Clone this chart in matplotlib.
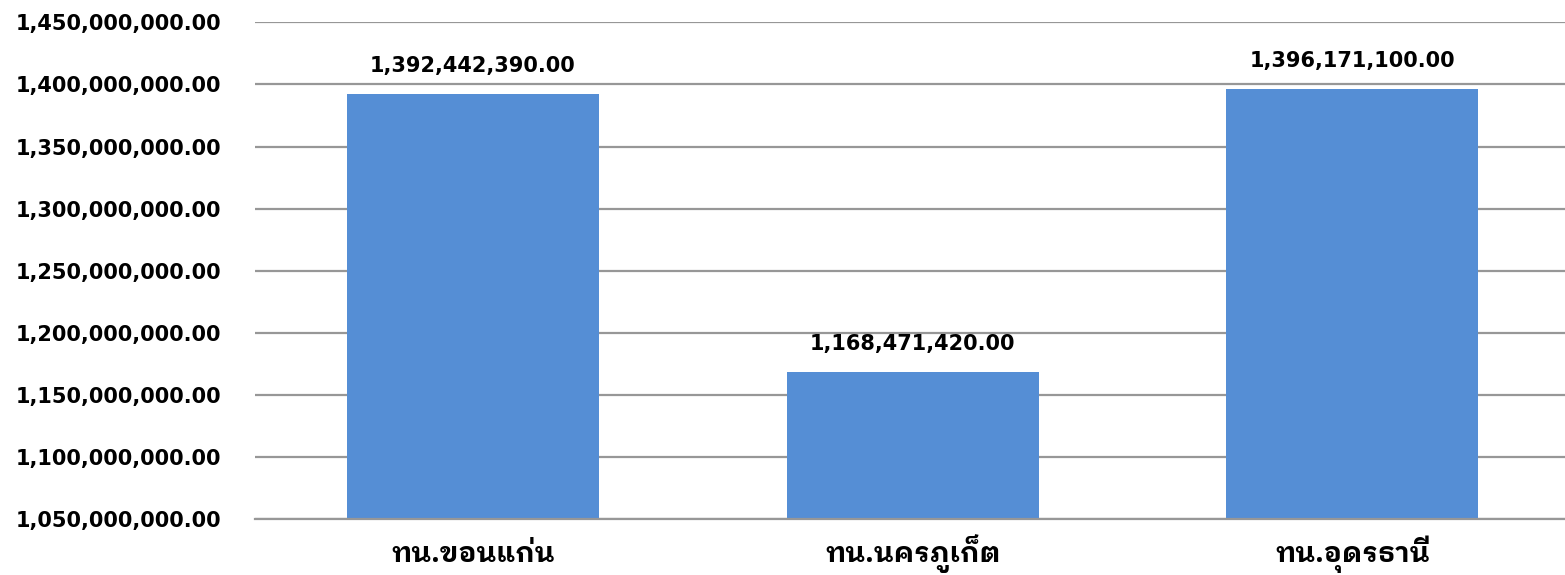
import matplotlib
matplotlib.use("Agg")
import matplotlib.pyplot as plt
from matplotlib.ticker import FuncFormatter, MultipleLocator

# ข้อมูล
categories = ["ทน.ขอนแก่น", "ทน.นครภูเก็ต", "ทน.อุดรธานี"]
values = [1392442390.00, 1168471420.00, 1396171100.00]

BAR_COLOR = "#558ED5"
GRID_COLOR = "#979797"
THAI_FONT = ['IBM Plex Sans Thai Looped', 'DejaVu Sans']

plt.rcParams['font.family'] = ['DejaVu Sans', 'IBM Plex Sans Thai Looped']

fig = plt.figure(figsize=(15.65, 5.75), dpi=100)
ax = fig.add_axes([255 / 1565, 1 - 519 / 575, (1565 - 255) / 1565, (519 - 22) / 575])

x = range(len(categories))
ax.bar(x, values, width=0.573, color=BAR_COLOR, zorder=2)

ax.set_ylim(1.05e9, 1.4503e9)
ax.set_xlim(-0.496, 2.484)
ax.yaxis.set_major_locator(MultipleLocator(5e7))
ax.yaxis.set_major_formatter(FuncFormatter(lambda v, p: f"{v:,.2f}"))
ax.grid(axis="y", color=GRID_COLOR, linewidth=1.6, zorder=0)

for s in ["top", "right", "left"]:
    ax.spines[s].set_visible(False)
ax.spines["bottom"].set_color(GRID_COLOR)
ax.spines["bottom"].set_linewidth(1.6)

ax.tick_params(axis="y", length=0, pad=24, labelsize=15)
ax.tick_params(axis="x", length=0, pad=31)
ax.set_xticks(list(x))
ax.set_xticklabels(categories, fontweight="bold", family=THAI_FONT, fontsize=20)
# ให้ทุกป้ายอยู่บน baseline เดียวกัน
for lbl in ax.get_xticklabels():
    lbl.set_va("baseline")
for lbl in ax.get_yticklabels():
    lbl.set_fontweight("bold")

for i, v in enumerate(values):
    ax.annotate(f"{v:,.2f}", (i, v), xytext=(0, 13), textcoords="offset points",
                ha="center", va="bottom", fontsize=15, fontweight="bold")

fig.savefig("out.png", dpi=100)
